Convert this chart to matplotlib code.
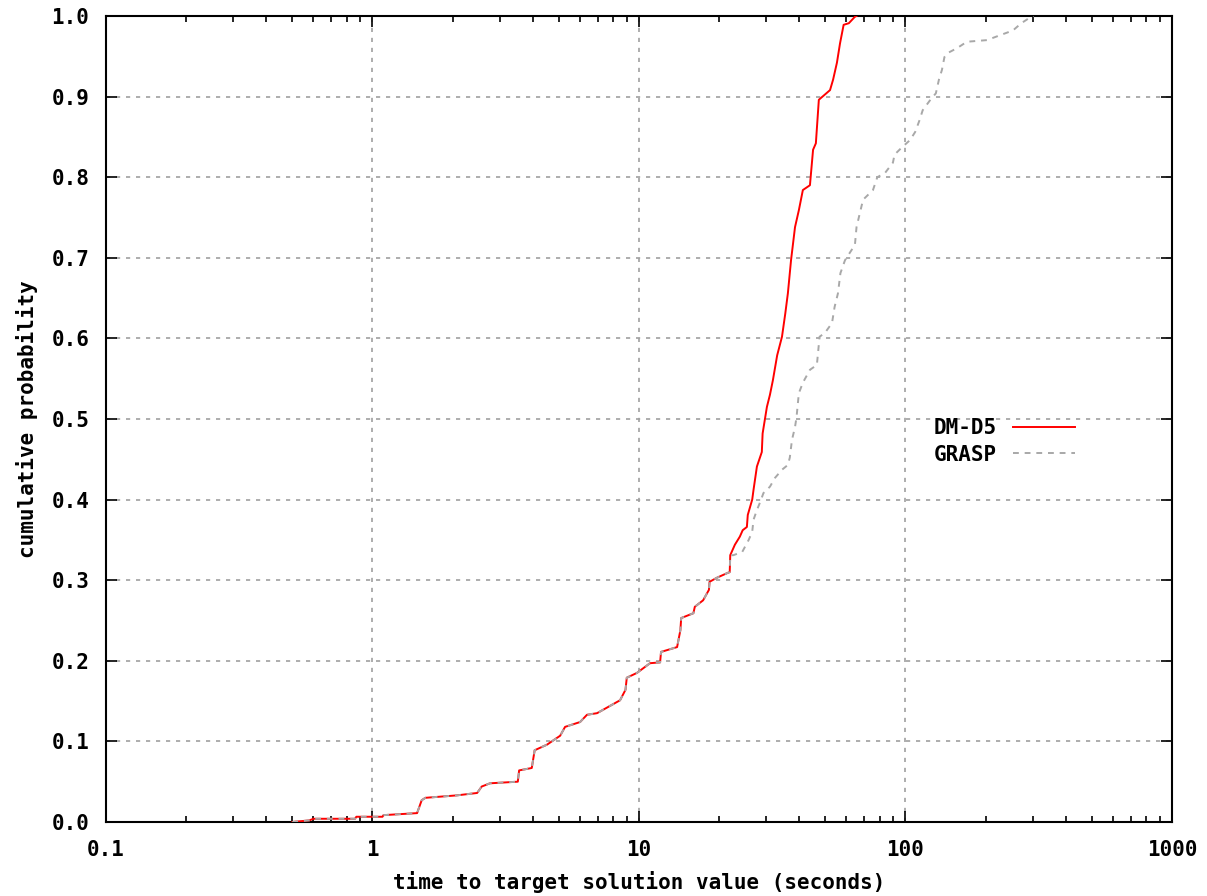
import matplotlib.pyplot as plt
from matplotlib.ticker import LogLocator, FixedLocator, NullFormatter

# DM-D5 run-time distribution (seconds, cumulative probability)
DM_T = [0.50, 0.58, 0.60, 0.86, 0.87, 1.09, 1.10, 1.47, 1.53, 1.58, 2.07, 2.47, 2.57,
        2.76, 3.51, 3.55, 3.96, 4.06, 4.52, 5.06, 5.28, 6.01, 6.38, 6.96, 8.49, 8.9,
        9.0, 9.83, 11.0, 12.0, 12.1, 13.9, 14.3, 14.4, 16.0, 16.2, 17.4, 18.3, 18.4,
        19.6, 21.5, 21.9, 22.0, 22.9, 23.9, 24.5, 25.4, 25.6, 26.6, 26.9, 27.7, 28.9,
        29.1, 30.2, 31.0, 31.8, 33.0, 34.4, 35.4, 36.2, 37.2, 38.5, 39.8, 41.2, 43.8,
        45.0, 46.1, 47.3, 52.1, 53.5, 55.3, 56.8, 58.6, 61.3, 64.6, 65.5]
DM_P = [0.000, 0.002, 0.004, 0.004, 0.0065, 0.0065, 0.0085, 0.011, 0.027, 0.030, 0.033,
        0.036, 0.044, 0.048, 0.050, 0.064, 0.067, 0.089, 0.096, 0.107, 0.118, 0.124,
        0.133, 0.135, 0.151, 0.164, 0.179, 0.185, 0.197, 0.198, 0.211, 0.217, 0.238,
        0.253, 0.259, 0.267, 0.275, 0.288, 0.298, 0.303, 0.309, 0.310, 0.331, 0.344,
        0.354, 0.362, 0.366, 0.381, 0.400, 0.412, 0.441, 0.459, 0.482, 0.515, 0.530,
        0.548, 0.579, 0.602, 0.631, 0.656, 0.697, 0.738, 0.759, 0.784, 0.790, 0.834,
        0.842, 0.896, 0.908, 0.921, 0.942, 0.966, 0.989, 0.991, 0.999, 1.000]

# GRASP run-time distribution (same as DM-D5 up to ~0.33)
GR_T = DM_T[:43] + [22.6, 24.4, 25.8, 26.6, 26.9, 27.7, 28.5, 29.3, 31.0, 32.4, 34.4,
                    36.2, 36.8, 37.5, 38.5, 39.0, 39.8, 41.2, 43.8, 46.5, 47.6, 49.9,
                    53.0, 54.2, 55.8, 57.0, 59.3, 64.6, 65.5, 69.3, 75.5, 78.4, 83.7,
                    89.7, 91.0, 97.0, 104, 108.7, 113, 116, 124, 130, 133.5, 137, 140,
                    144, 156, 170, 202, 226, 253, 272, 293, 302]
GR_P = DM_P[:43] + [0.331, 0.335, 0.350, 0.360, 0.375, 0.387, 0.397, 0.408, 0.416, 0.427,
                    0.437, 0.443, 0.452, 0.474, 0.490, 0.502, 0.532, 0.545, 0.561, 0.567,
                    0.602, 0.607, 0.619, 0.639, 0.656, 0.681, 0.697, 0.716, 0.738, 0.772,
                    0.784, 0.800, 0.805, 0.818, 0.828, 0.837, 0.846, 0.856, 0.871, 0.883,
                    0.896, 0.904, 0.921, 0.933, 0.949, 0.954, 0.960, 0.968, 0.970, 0.976,
                    0.982, 0.991, 0.998, 1.000]

X_TICKS = [0.1, 1, 10, 100, 1000]
X_LABELS = ["0.1", "1", "10", "100", "1000"]
Y_TICKS = [0.0, 0.1, 0.2, 0.3, 0.4, 0.5, 0.6, 0.7, 0.8, 0.9, 1.0]

plt.rcParams['font.family'] = ['DejaVu Sans Mono']
plt.rcParams['font.weight'] = 'bold'
plt.rcParams['axes.labelweight'] = 'bold'

fig = plt.figure(figsize=(12.07, 8.96), dpi=100)
ax = fig.add_axes([0.0878, 0.0826, 0.8832, 0.8996])

ax.plot(DM_T, DM_P, color='#ff0000', lw=1.4, label='DM-D5', zorder=3)
ax.plot(GR_T, GR_P, color='#a8a8a8', lw=1.4, linestyle=(0, (3, 3)), label='GRASP', zorder=4)

ax.set_xscale('log')
ax.set_xlim(0.1, 1000)
ax.set_ylim(0, 1)
ax.xaxis.set_major_locator(FixedLocator(X_TICKS))
ax.set_xticklabels(X_LABELS)
ax.xaxis.set_minor_locator(LogLocator(base=10, subs=range(2, 10)))
ax.xaxis.set_minor_formatter(NullFormatter())
ax.set_yticks(Y_TICKS)
ax.set_yticklabels([f"{v:.1f}" for v in Y_TICKS])

ax.tick_params(which='both', direction='in', top=True, right=True, labelsize=15, width=1.2)
ax.tick_params(which='major', length=8)
ax.tick_params(which='minor', length=4)
ax.tick_params(axis='y', pad=12)
ax.tick_params(axis='x', pad=13)

for s in ax.spines.values():
    s.set_linewidth(1.5)

ax.grid(True, which='major', color='#a0a0a0', linestyle=(0, (2.5, 3.5)), lw=1.2)

ax.set_xlabel('time to target solution value (seconds)', fontsize=15, labelpad=8)
ax.set_ylabel('cumulative probability', fontsize=15, labelpad=10)

leg = ax.legend(loc='center left', bbox_to_anchor=(0.759, 0.472), frameon=False,
                markerfirst=False, fontsize=15, handlelength=3.0, handletextpad=0.75,
                labelspacing=0.3)

fig.savefig('out.png', dpi=100)
